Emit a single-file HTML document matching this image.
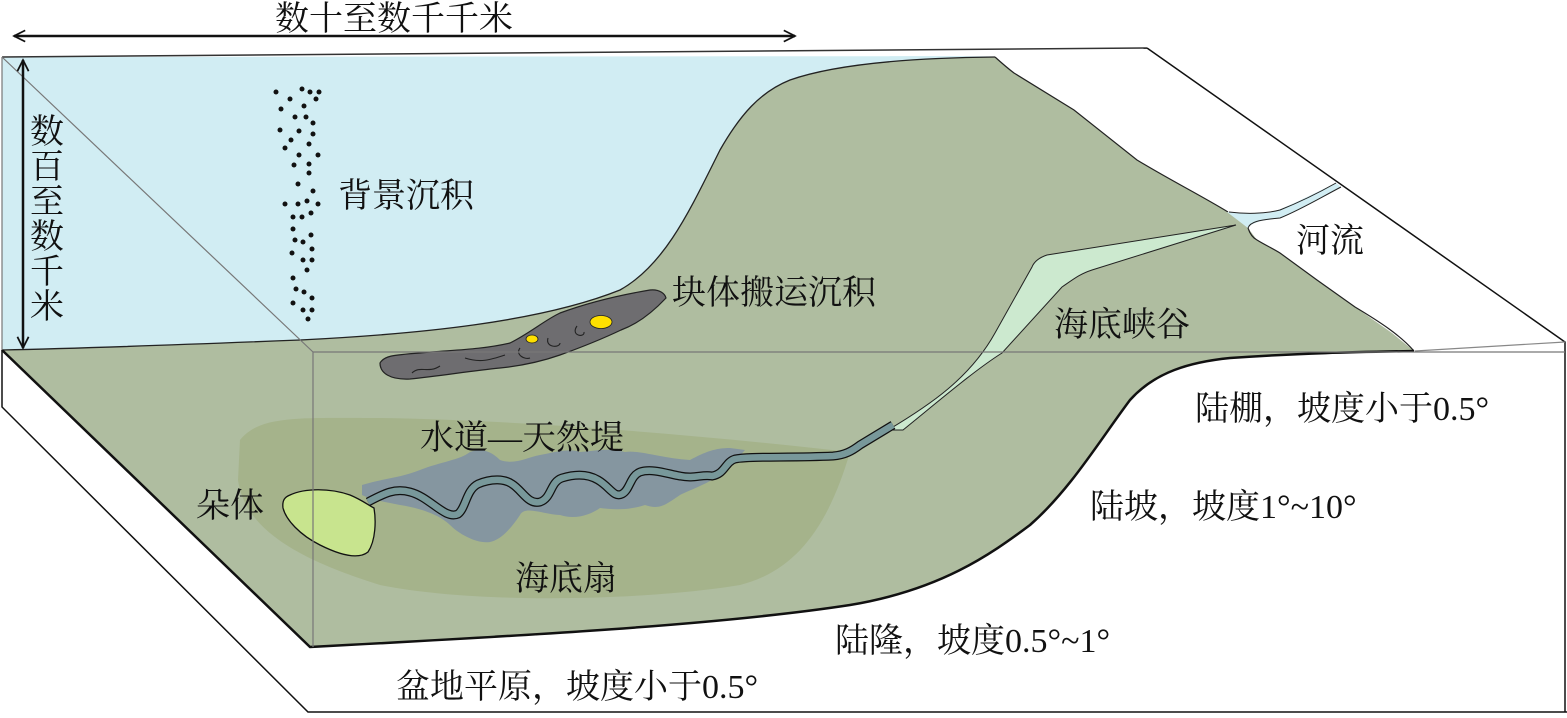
<!DOCTYPE html>
<html><head><meta charset="utf-8"><style>
html,body{margin:0;padding:0;background:#fff}
svg{display:block}
text{font-family:"Liberation Serif","Noto Serif CJK SC",serif;font-size:34px;fill:#111}
</style></head><body>
<svg width="1567" height="718" viewBox="0 0 1567 718" xmlns="http://www.w3.org/2000/svg">
<defs>
<marker id="ah" viewBox="0 0 20 20" refX="18" refY="10" markerWidth="14" markerHeight="14" orient="auto-start-reverse" markerUnits="userSpaceOnUse">
<path d="M2,2 L18,10 L2,18" fill="none" stroke="#111" stroke-width="2.5"/>
</marker>
</defs>
<path d="M2,350 L2,407 L308,712 L1567,712" fill="none" stroke="#111" stroke-width="1.5"/>
<path d="M1147,48 L1565,342 L1565,712" fill="none" stroke="#111" stroke-width="1.5"/>
<line x1="1415" y1="351" x2="1565" y2="342" stroke="#888" stroke-width="1.2"/>
<path d="M2,57 L995,56 C900,58 830,66 790,80 C760,92 740,115 720,150 C690,210 665,265 620,290 C540,322 420,334 300,340 C200,344 100,348 2,350 Z" fill="#d1edf3"/>
<path d="M2,57 L1147,48" fill="none" stroke="#333" stroke-width="1.5"/>
<path d="M2,350 C100,348 200,344 300,340 C420,334 540,322 620,290 C665,265 690,210 720,150 C740,115 760,92 790,80 C830,66 900,58 995,57 L1014,73 L1074,110 L1137,160 L1228,212 L1248,228 L1257,240 L1280,253 L1317,280 L1355,307 L1392,333 L1414,351 C1360,352 1300,353 1230,358 C1190,362 1155,372 1130,400 C1100,440 1070,490 1030,525 C990,555 940,590 850,605 C720,625 520,636 310,647 Z" fill="#afbda0"/>
<path d="M2,350 C100,348 200,344 300,340 C420,334 540,322 620,290 C665,265 690,210 720,150 C740,115 760,92 790,80 C830,66 900,58 995,57" fill="none" stroke="#222" stroke-width="1.3"/>
<path d="M995,57 C1005,66 1010,70 1014,73 L1074,110 L1137,160 C1170,180 1200,195 1228,212" fill="none" stroke="#222" stroke-width="1.2"/>
<path d="M1248,228 C1250,234 1253,238 1257,240 C1265,245 1272,248 1280,253 L1317,280 L1355,307 C1380,322 1400,335 1414,351" fill="none" stroke="#222" stroke-width="1.2"/>
<path d="M2,350 L310,647 C520,636 720,625 850,605 C940,590 990,555 1030,525 C1070,490 1100,440 1130,400 C1155,372 1190,362 1230,358 C1300,353 1360,352 1414,351" fill="none" stroke="#111" stroke-width="2.5"/>
<path d="M1227,212 C1236,213 1250,214 1268,213 C1282,210 1300,200 1336,183 L1341,187 C1310,203 1290,215 1280,218 C1270,220 1262,220 1258,222 C1252,224 1249,226 1248,228 Z" fill="#d1edf3" stroke="none"/>
<path d="M1229,212 C1245,214 1265,214 1280,210 C1300,202 1320,192 1336,183" fill="none" stroke="#222" stroke-width="1"/>
<path d="M1248,228 C1250,222 1258,220 1280,218 C1300,210 1320,198 1341,187" fill="none" stroke="#222" stroke-width="1"/>
<path d="M240,440 C260,415 300,418 380,418 C520,420 700,435 850,452 C830,520 800,570 740,585 C650,600 480,605 380,585 C300,560 245,530 238,480 Z" fill="#a5b38b"/>
<path d="M1236,225 L1047,255 C1038,258 1034,262 1032,267 L995,333 C970,378 930,405 888,430 L903,430 C940,400 975,370 1002,353 L1062,287 C1075,278 1080,274 1092,270 Z" fill="#cce9cf" stroke="#222" stroke-width="1"/>
<path d="M362,485 C385,478 400,478 420,470 C440,462 460,460 470,452 C480,448 490,450 500,460 C515,465 525,458 540,455 C555,452 570,448 580,452 C600,450 610,448 625,452 C640,450 660,458 690,460 C705,452 715,448 730,448 L745,450 C735,462 725,468 720,475 C705,485 690,490 680,495 C665,505 660,510 645,505 C630,510 615,510 600,508 C590,515 575,520 560,515 C545,515 525,505 520,515 C510,530 500,540 490,542 C478,544 460,535 450,525 C440,515 420,508 400,505 C385,502 372,500 362,495 Z" fill="#8596a0"/>
<path d="M368,502 C385,493 395,488 410,492 C430,497 445,520 458,514 C466,508 466,490 478,484 C492,478 505,479 512,484 C522,490 528,505 540,502 C552,498 550,482 562,478 C575,474 588,474 598,480 C610,487 614,498 622,494 C630,490 630,476 640,472 C652,468 668,474 680,476 C695,479 702,474 712,476 C725,474 725,462 735,459 C748,456 790,458 833,456 C845,455 852,451 860,445 L893,425" fill="none" stroke="#111" stroke-width="9"/>
<path d="M368,502 C385,493 395,488 410,492 C430,497 445,520 458,514 C466,508 466,490 478,484 C492,478 505,479 512,484 C522,490 528,505 540,502 C552,498 550,482 562,478 C575,474 588,474 598,480 C610,487 614,498 622,494 C630,490 630,476 640,472 C652,468 668,474 680,476 C695,479 702,474 712,476 C725,474 725,462 735,459 C748,456 790,458 833,456 C845,455 852,451 860,445 L893,425" fill="none" stroke="#78989a" stroke-width="6.5"/>
<path d="M290,495 C305,488 330,488 350,495 C362,500 368,505 374,508 C376,520 376,540 368,552 C358,560 340,555 320,545 C300,535 286,520 283,508 C282,500 285,497 290,495 Z" fill="#c8e48e" stroke="#111" stroke-width="1.3"/>
<path d="M380,363 C384,356 392,355 420,353 C450,350 480,350 510,343 C530,333 545,320 560,313 C590,302 620,295 650,290 C660,289 665,294 666,298 C650,315 635,325 621,330 C600,340 585,346 560,355 C540,362 520,366 500,368 C470,371 440,376 410,379 C390,380 380,373 380,363 Z" fill="#6e6d70" stroke="#222" stroke-width="1.2"/>
<ellipse cx="601" cy="322" rx="11" ry="6.5" fill="#ffe000" stroke="#222" stroke-width="0.8"/>
<ellipse cx="532" cy="339" rx="6" ry="4" fill="#ffe000" stroke="#222" stroke-width="0.8"/>
<g fill="none" stroke="#222" stroke-width="1.1">
<path d="M412,373 C420,365 428,374 440,366"/>
<path d="M465,358 C480,363 490,360 505,355"/>
<path d="M520,348 C515,355 525,360 530,358"/>
<path d="M548,338 C545,348 560,348 560,343"/>
<path d="M577,326 C570,336 585,338 584,332"/>
</g>
<g stroke="#777" stroke-width="1.2" fill="none">
<line x1="2" y1="57" x2="313" y2="352"/>
<line x1="313" y1="352" x2="1565" y2="352"/>
<line x1="313" y1="352" x2="313" y2="647"/>
<line x1="2" y1="57" x2="2" y2="350"/>
</g>
<g fill="#111">
<circle cx="276" cy="92" r="2.5"/><circle cx="290" cy="99" r="2.5"/><circle cx="302" cy="89" r="2.5"/><circle cx="310" cy="92" r="2.5"/><circle cx="319" cy="92" r="2.5"/><circle cx="316" cy="99" r="2.5"/>
<circle cx="281" cy="109" r="2.5"/><circle cx="304" cy="106" r="2.5"/><circle cx="295" cy="117" r="2.5"/><circle cx="306" cy="117" r="2.5"/><circle cx="313" cy="123" r="2.5"/>
<circle cx="280" cy="130" r="2.5"/><circle cx="299" cy="131" r="2.5"/><circle cx="313" cy="134" r="2.5"/><circle cx="291" cy="140" r="2.5"/><circle cx="285" cy="148" r="2.5"/><circle cx="309" cy="144" r="2.5"/>
<circle cx="299" cy="155" r="2.5"/><circle cx="318" cy="155" r="2.5"/><circle cx="294" cy="165" r="2.5"/><circle cx="309" cy="164" r="2.5"/><circle cx="309" cy="173" r="2.5"/>
<circle cx="298" cy="184" r="2.5"/><circle cx="313" cy="191" r="2.5"/><circle cx="285" cy="204" r="2.5"/><circle cx="298" cy="204" r="2.5"/><circle cx="307" cy="201" r="2.5"/><circle cx="318" cy="204" r="2.5"/>
<circle cx="293" cy="217" r="2.5"/><circle cx="302" cy="217" r="2.5"/><circle cx="311" cy="213" r="2.5"/><circle cx="293" cy="229" r="2.5"/><circle cx="295" cy="240" r="2.5"/><circle cx="303" cy="242" r="2.5"/><circle cx="311" cy="235" r="2.5"/>
<circle cx="292" cy="253" r="2.5"/><circle cx="312" cy="249" r="2.5"/><circle cx="303" cy="260" r="2.5"/><circle cx="312" cy="260" r="2.5"/><circle cx="307" cy="270" r="2.5"/>
<circle cx="293" cy="278" r="2.5"/><circle cx="296" cy="289" r="2.5"/><circle cx="304" cy="292" r="2.5"/><circle cx="312" cy="298" r="2.5"/><circle cx="293" cy="303" r="2.5"/><circle cx="303" cy="310" r="2.5"/><circle cx="312" cy="310" r="2.5"/><circle cx="308" cy="319" r="2.5"/>
</g>
<line x1="14" y1="36" x2="795" y2="36" stroke="#111" stroke-width="2.5" marker-start="url(#ah)" marker-end="url(#ah)"/>
<line x1="23" y1="60" x2="23" y2="348" stroke="#111" stroke-width="2.5" marker-start="url(#ah)" marker-end="url(#ah)"/>
<text x="275" y="30">数十至数千千米</text>
<g text-anchor="middle">
<text x="47" y="143">数</text><text x="47" y="178">百</text><text x="47" y="213">至</text><text x="47" y="248">数</text><text x="47" y="283">千</text><text x="47" y="318">米</text>
</g>
<text x="338" y="207">背景沉积</text>
<text x="672" y="304">块体搬运沉积</text>
<text x="1296" y="252">河流</text>
<text x="1054" y="336">海底峡谷</text>
<text x="1195" y="420">陆棚，坡度小于0.5°</text>
<text x="420" y="449">水道—天然堤</text>
<text x="1090" y="518">陆坡，坡度1°~10°</text>
<text x="196" y="517">朵体</text>
<text x="515" y="590">海底扇</text>
<text x="835" y="652">陆隆，坡度0.5°~1°</text>
<text x="396" y="698">盆地平原，坡度小于0.5°</text>
</svg>
</body></html>
